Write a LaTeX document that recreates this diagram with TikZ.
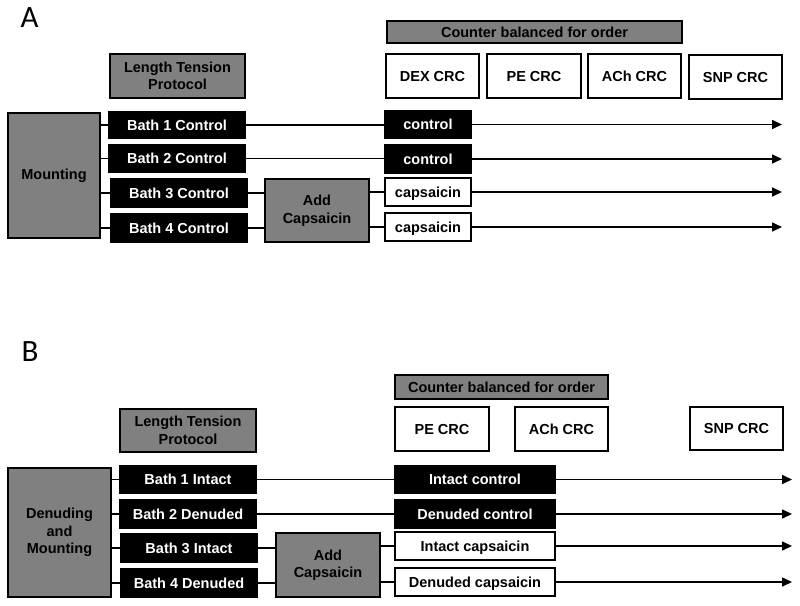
\documentclass[tikz,border=0pt]{standalone}
\usepackage{fontspec}
\setmainfont{Liberation Sans}
\newfontfamily\panelfont{Carlito}
\usetikzlibrary{arrows.meta}
\definecolor{boxgray}{HTML}{808080}
\tikzset{
  base/.style={draw=black, line width=1.6pt, inner sep=0pt, outer sep=0pt, align=center,
    font=\fontsize{14.5}{17.5}\selectfont\bfseries},
  oneline/.style={text height=10.4pt, text depth=0pt},
  graybox/.style={base, fill=boxgray, text=black},
  blackbox/.style={base, oneline, fill=black, text=white},
  whitebox/.style={base, oneline, fill=white, text=black},
  conn/.style={line width=1.6pt},
  arr/.style={line width=1.6pt, -{Triangle[length=10pt,width=9pt]}},
  panellabel/.style={font=\panelfont\fontsize{31}{31}\selectfont, inner sep=0pt}
}
\begin{document}
\begin{tikzpicture}[x=1pt,y=-1pt]
\useasboundingbox (0,0) rectangle (800,605);
% ---------------- Panel A ----------------
\node[panellabel] (labA) at (29.5,18) {A};
\node[graybox, minimum width=135pt, minimum height=44pt] (ltpA) at (177.5,76) {Length Tension\\Protocol};
\node[graybox, minimum width=92pt, minimum height=125pt] (mountA) at (54,175.5) {Mounting};
\node[blackbox, minimum width=136pt, minimum height=26pt] (b1A) at (177,125) {Bath 1 Control};
\node[blackbox, minimum width=136pt, minimum height=27pt] (b2A) at (177,158.5) {Bath 2 Control};
\node[blackbox, minimum width=136pt, minimum height=28pt] (b3A) at (179,193) {Bath 3 Control};
\node[blackbox, minimum width=136pt, minimum height=28pt] (b4A) at (179,228) {Bath 4 Control};
\node[graybox, minimum width=104pt, minimum height=63pt] (addA) at (317,210.5) {Add\\Capsaicin};
\node[graybox, oneline, minimum width=295pt, minimum height=22pt] (cbA) at (534.5,32) {Counter balanced for order};
\node[whitebox, minimum width=93pt, minimum height=44pt] (dexA) at (432.5,76) {DEX CRC};
\node[whitebox, minimum width=94pt, minimum height=44pt] (peA) at (534,76) {PE CRC};
\node[whitebox, minimum width=93pt, minimum height=44pt] (achA) at (634.5,76) {ACh CRC};
\node[whitebox, minimum width=93pt, minimum height=44pt] (snpA) at (735.5,77) {SNP CRC};
\node[blackbox, minimum width=86pt, minimum height=27pt] (c1A) at (428,124.5) {control};
\node[blackbox, minimum width=86pt, minimum height=28pt] (c2A) at (428,159) {control};
\node[whitebox, minimum width=86pt, minimum height=28pt] (cap1A) at (428,192) {capsaicin};
\node[whitebox, minimum width=86pt, minimum height=28pt] (cap2A) at (428,227) {capsaicin};
\coordinate (e1A) at (782,124.5);
\coordinate (e2A) at (782,159);
\coordinate (e3A) at (782,192);
\coordinate (e4A) at (782,227);
% connectors A
\draw[conn] (b1A.west -| mountA.east) -- (b1A.west);
\draw[conn] (b2A.west -| mountA.east) -- (b2A.west);
\draw[conn] (b3A.west -| mountA.east) -- (b3A.west);
\draw[conn] (b4A.west -| mountA.east) -- (b4A.west);
\draw[conn] (b1A.east) -- (b1A.east -| c1A.west);
\draw[conn] (b2A.east) -- (b2A.east -| c2A.west);
\draw[conn] (b3A.east) -- (b3A.east -| addA.west);
\draw[conn] (b4A.east) -- (b4A.east -| addA.west);
\draw[conn] (cap1A.west -| addA.east) -- (cap1A.west);
\draw[conn] (cap2A.west -| addA.east) -- (cap2A.west);
\draw[arr] (c1A.east) -- (e1A);
\draw[arr] (c2A.east) -- (e2A);
\draw[arr] (cap1A.east) -- (e3A);
\draw[arr] (cap2A.east) -- (e4A);
% ---------------- Panel B ----------------
\node[panellabel] (labB) at (30,351.5) {B};
\node[graybox, minimum width=136pt, minimum height=43pt] (ltpB) at (188,430.5) {Length Tension\\Protocol};
\node[graybox, minimum width=103pt, minimum height=129pt] (mountB) at (59.5,532.5) {Denuding\\and\\Mounting};
\node[blackbox, minimum width=136pt, minimum height=27pt] (b1B) at (188,479.5) {Bath 1 Intact};
\node[blackbox, minimum width=136pt, minimum height=28pt] (b2B) at (188,514) {Bath 2 Denuded};
\node[blackbox, minimum width=136pt, minimum height=28pt] (b3B) at (189,548) {Bath 3 Intact};
\node[blackbox, minimum width=136pt, minimum height=28pt] (b4B) at (189,583) {Bath 4 Denuded};
\node[graybox, minimum width=104pt, minimum height=64pt] (addB) at (328,565) {Add\\Capsaicin};
\node[graybox, oneline, minimum width=213pt, minimum height=24pt] (cbB) at (501.5,387) {Counter balanced for order};
\node[whitebox, minimum width=94pt, minimum height=44pt] (peB) at (442,429) {PE CRC};
\node[whitebox, minimum width=93pt, minimum height=44pt] (achB) at (561.5,429) {ACh CRC};
\node[whitebox, minimum width=93pt, minimum height=43pt] (snpB) at (736.5,428.5) {SNP CRC};
\node[blackbox, minimum width=160pt, minimum height=27pt] (icB) at (475,479.5) {Intact control};
\node[blackbox, minimum width=160pt, minimum height=28pt] (dcB) at (475,514) {Denuded control};
\node[whitebox, minimum width=160pt, minimum height=28pt] (icapB) at (475,546) {Intact capsaicin};
\node[whitebox, minimum width=160pt, minimum height=28pt] (dcapB) at (475,582) {Denuded capsaicin};
\coordinate (e1B) at (792,479.5);
\coordinate (e2B) at (792,514);
\coordinate (e3B) at (792,546);
\coordinate (e4B) at (792,582);
% connectors B
\draw[conn] (b1B.west -| mountB.east) -- (b1B.west);
\draw[conn] (b2B.west -| mountB.east) -- (b2B.west);
\draw[conn] (b3B.west -| mountB.east) -- (b3B.west);
\draw[conn] (b4B.west -| mountB.east) -- (b4B.west);
\draw[conn] (b1B.east) -- (b1B.east -| icB.west);
\draw[conn] (b2B.east) -- (b2B.east -| dcB.west);
\draw[conn] (b3B.east) -- (b3B.east -| addB.west);
\draw[conn] (b4B.east) -- (b4B.east -| addB.west);
\draw[conn] (icapB.west -| addB.east) -- (icapB.west);
\draw[conn] (dcapB.west -| addB.east) -- (dcapB.west);
\draw[arr] (icB.east) -- (e1B);
\draw[arr] (dcB.east) -- (e2B);
\draw[arr] (icapB.east) -- (e3B);
\draw[arr] (dcapB.east) -- (e4B);
\end{tikzpicture}
\end{document}
